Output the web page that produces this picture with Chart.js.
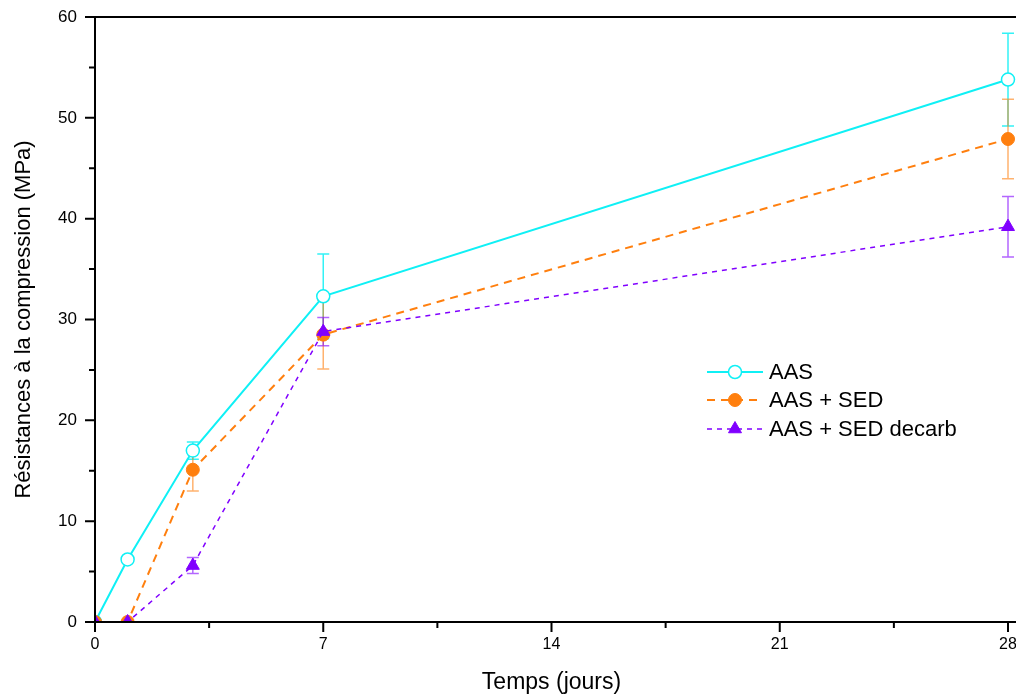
<!DOCTYPE html>
<html><head><meta charset="utf-8">
<script src="https://cdn.jsdelivr.net/npm/chart.js@4.4.0/dist/chart.umd.min.js"></script>
<style>html,body{margin:0;padding:0;overflow:hidden;background:#fff;width:1016px;height:696px}canvas{display:block}</style>
</head><body>
<canvas id="c" width="1040" height="696" style="width:1040px;height:696px"></canvas>
<script>
const days = [0, 1, 3, 7, 28];
const aas = [0, 6.2, 17.0, 32.3, 53.8];
const aasErr = [0, 0.3, 0.85, 4.2, 4.6];
const sed = [0, 0, 15.1, 28.5, 47.9];
const sedErr = [0, 0, 2.1, 3.4, 3.95];
const dec = [0, 0, 5.6, 28.8, 39.2];
const decErr = [0, 0, 0.8, 1.4, 3.0];
const seriesNames = ['AAS', 'AAS + SED', 'AAS + SED decarb'];
const xTicks = [0, 7, 14, 21, 28];
const yTicks = [0, 10, 20, 30, 40, 50, 60];

const CYAN = '#0FF0F5', ORANGE = '#FF7F0E', PURPLE = '#8000FF';
const errColors = ['rgba(15,240,245,0.85)', 'rgba(255,127,14,0.6)', 'rgba(128,0,255,0.6)'];
const errs = [aasErr, sedErr, decErr];

function pts(ys){ return days.map((d,i)=>({x:d, y:ys[i]})); }

const axesPlugin = {
  id: 'axesPlugin',
  beforeDatasetsDraw(chart){
    const ctx = chart.ctx, xs = chart.scales.x, ys = chart.scales.y;
    ctx.save();
    chart.data.datasets.forEach((ds, di) => {
      const e = errs[di];
      ctx.strokeStyle = errColors[di];
      ctx.lineWidth = 1.5;
      ds.data.forEach((p, i) => {
        if (!e[i]) return;
        const px = xs.getPixelForValue(p.x);
        const y1 = ys.getPixelForValue(p.y + e[i]);
        const y2 = ys.getPixelForValue(p.y - e[i]);
        ctx.beginPath();
        ctx.moveTo(px, y1); ctx.lineTo(px, y2);
        ctx.moveTo(px - 6, y1); ctx.lineTo(px + 6, y1);
        ctx.moveTo(px - 6, y2); ctx.lineTo(px + 6, y2);
        ctx.stroke();
      });
    });
    ctx.restore();
  },
  afterDraw(chart){
    const ctx = chart.ctx, xs = chart.scales.x, ys = chart.scales.y;
    const a = chart.chartArea;
    ctx.save();
    ctx.strokeStyle = '#000';
    ctx.lineWidth = 2;
    ctx.beginPath();
    ctx.moveTo(a.left, a.top - 1); ctx.lineTo(a.left, a.bottom + 1);
    ctx.moveTo(a.left - 1, a.bottom); ctx.lineTo(chart.width, a.bottom);
    ctx.moveTo(a.left - 1, a.top); ctx.lineTo(chart.width, a.top);
    for (let v = 0; v <= 60; v += 5) {
      const py = ys.getPixelForValue(v);
      const len = (v % 10 === 0) ? 10 : 6;
      ctx.moveTo(a.left - len, py); ctx.lineTo(a.left, py);
    }
    for (let v = 0; v <= 28; v += 3.5) {
      const px = xs.getPixelForValue(v);
      const len = (Math.abs(v % 7) < 1e-9) ? 10 : 6;
      ctx.moveTo(px, a.bottom); ctx.lineTo(px, a.bottom + len);
    }
    ctx.stroke();

    // legend
    const rows = [372, 400, 429];
    const x0 = 707, x1 = 763, xm = 735;
    chart.data.datasets.forEach((ds, di) => {
      const y = rows[di];
      ctx.save();
      ctx.strokeStyle = ds.borderColor;
      ctx.lineWidth = ds.borderWidth;
      ctx.setLineDash(ds.borderDash || []);
      ctx.beginPath(); ctx.moveTo(x0, y); ctx.lineTo(x1, y); ctx.stroke();
      ctx.restore();
      ctx.save();
      ctx.fillStyle = ds.pointBackgroundColor;
      ctx.strokeStyle = ds.pointBorderColor;
      ctx.lineWidth = ds.pointBorderWidth;
      Chart.helpers.drawPoint(ctx, {
        pointStyle: ds.pointStyle, radius: ds.pointRadius, rotation: 0,
        borderWidth: ds.pointBorderWidth
      }, xm, y);
      ctx.restore();
      ctx.fillStyle = '#000';
      ctx.font = '22px "Liberation Sans", Arial, sans-serif';
      ctx.textBaseline = 'middle';
      ctx.textAlign = 'left';
      ctx.fillText(seriesNames[di], 769, y + 1);
    });
    ctx.restore();
  }
};

const clipArea = { left: 0, top: false, right: false, bottom: 0 };

new Chart(document.getElementById('c'), {
  type: 'line',
  data: {
    datasets: [
      { label: seriesNames[0], data: pts(aas), borderColor: CYAN, borderWidth: 2, borderDash: [],
        pointStyle: 'circle', pointRadius: 6.5, pointBackgroundColor: '#fff', pointBorderColor: CYAN, pointBorderWidth: 1.5, order: 2, clip: clipArea },
      { label: seriesNames[1], data: pts(sed), borderColor: ORANGE, borderWidth: 2, borderDash: [8, 6],
        pointStyle: 'circle', pointRadius: 6.5, pointBackgroundColor: ORANGE, pointBorderColor: ORANGE, pointBorderWidth: 1, order: 1, clip: clipArea },
      { label: seriesNames[2], data: pts(dec), borderColor: PURPLE, borderWidth: 1.5, borderDash: [5, 5],
        pointStyle: 'triangle', pointRadius: 7.5, pointBackgroundColor: PURPLE, pointBorderColor: PURPLE, pointBorderWidth: 1, order: 0, clip: clipArea }
    ]
  },
  options: {
    responsive: false,
    animation: false,
    devicePixelRatio: 1,
    layout: { padding: { left: 0, top: 17, right: 32, bottom: 0 } },
    plugins: { legend: { display: false }, tooltip: { enabled: false } },
    elements: { line: { tension: 0 } },
    scales: {
      x: {
        type: 'linear', min: 0, max: 28,
        afterBuildTicks: s => { s.ticks = xTicks.map(v => ({ value: v })); },
        afterFit: s => { s.height = 74; },
        grid: { display: false, drawTicks: false },
        border: { display: false },
        ticks: { color: '#000', padding: 13, font: { family: '"Liberation Sans", Arial, sans-serif', size: 16 }, maxRotation: 0 },
        title: { display: true, text: 'Temps (jours)', color: '#000', padding: { top: 0, bottom: 0 },
          font: { family: '"Liberation Sans", Arial, sans-serif', size: 23 } }
      },
      y: {
        type: 'linear', min: 0, max: 60,
        afterBuildTicks: s => { s.ticks = yTicks.map(v => ({ value: v })); },
        afterFit: s => { s.width = 95; s.paddingTop = 0; s.paddingBottom = 0; },
        grid: { display: false, drawTicks: false },
        border: { display: false },
        ticks: { color: '#000', padding: 18, font: { family: '"Liberation Sans", Arial, sans-serif', size: 17 } },
        title: { display: true, text: 'Résistances à la compression (MPa)', color: '#000', padding: { top: 11, bottom: 0 },
          font: { family: '"Liberation Sans", Arial, sans-serif', size: 22 } }
      }
    }
  },
  plugins: [axesPlugin]
});
</script>
</body></html>
